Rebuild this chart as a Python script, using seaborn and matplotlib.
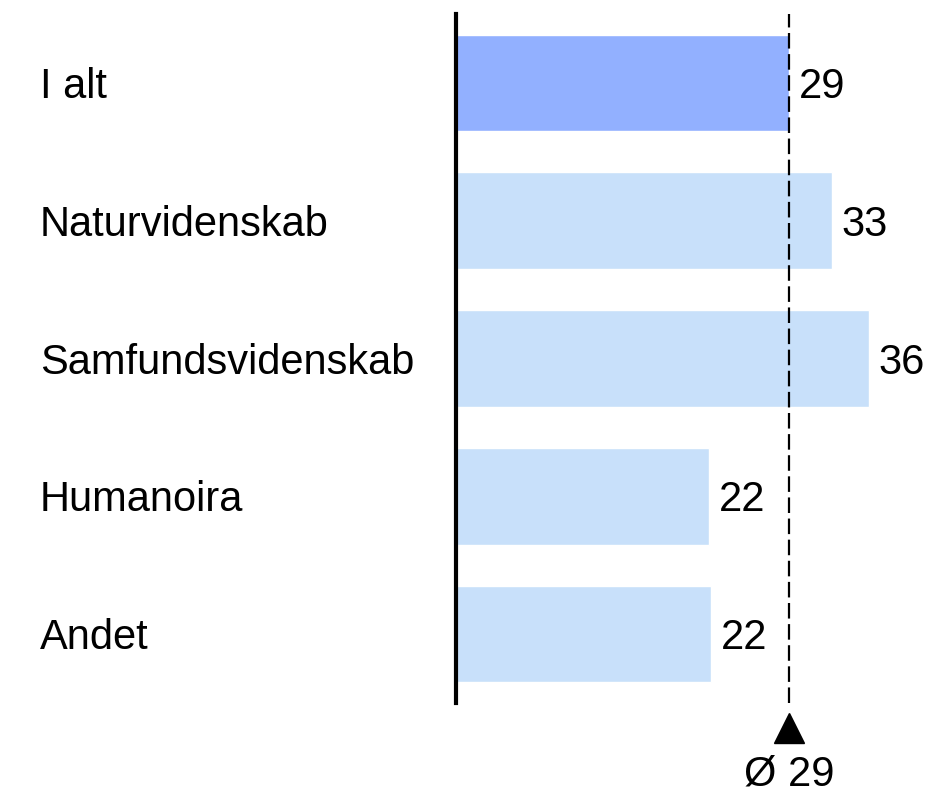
import matplotlib
matplotlib.use("Agg")
import matplotlib.pyplot as plt
import matplotlib.transforms as mtransforms
import seaborn as sns

# ── data ──────────────────────────────────────────────────────────────────────
categories = ["I alt", "Naturvidenskab", "Samfundsvidenskab", "Humanoira", "Andet"]
values = [29.0, 32.7, 35.9, 22.0, 22.2]
average = 29
avg_label = "Ø 29"
bar_colors = ["#92B0FF", "#C8E0FA", "#C8E0FA", "#C8E0FA", "#C8E0FA"]

# ── style ─────────────────────────────────────────────────────────────────────
sns.set_style("white")
plt.rcParams["font.family"] = ["Liberation Sans", "DejaVu Sans"]
plt.rcParams["text.color"] = "black"
FS = 30

fig = plt.figure(figsize=(9.29, 7.96), dpi=100)
ax = fig.add_axes([456 / 929, 1 - 703 / 796, 460 / 929, 689 / 796])

sns.barplot(x=values, y=categories, hue=categories, palette=bar_colors,
            legend=False, width=0.7, saturation=1, ax=ax)

ax.set_xlim(0, 40)
ax.set_ylim(4.5, -0.5)

# value labels (slightly below bar centre, as in the original)
for cont in ax.containers:
    for txt in ax.bar_label(cont, labels=[f"{v:.0f}" for v in cont.datavalues],
                            padding=7, fontsize=FS, color="black"):
        txt.xyann = (txt.xyann[0], -3)

# average line + marker
ax.axvline(average, color="black", lw=1.6, linestyle=(0, (7, 2.5)), zorder=3)
trans = mtransforms.blended_transform_factory(ax.transData, ax.transAxes)
ax.plot([average], [-0.037], marker="^", markersize=22, color="black",
        transform=trans, clip_on=False)
ax.text(average, -0.104, avg_label, transform=trans, ha="center", va="center",
        fontsize=FS, color="black")

# axes cosmetics
for side in ["top", "right", "bottom"]:
    ax.spines[side].set_visible(False)
ax.spines["left"].set_linewidth(3)
ax.spines["left"].set_color("black")
ax.set_xticks([])
ax.set_xlabel("")
ax.set_ylabel("")
ax.tick_params(axis="y", length=0, pad=0)
ax.set_yticks(range(len(categories)))
ax.set_yticklabels([])
label_trans = mtransforms.blended_transform_factory(fig.transFigure, ax.transData)
for i, cat in enumerate(categories):
    ax.text(40 / 929, i + 0.03, cat, transform=label_trans,
            ha="left", va="center", fontsize=FS, color="black")

fig.savefig("out.png", dpi=100)
plt.close(fig)
